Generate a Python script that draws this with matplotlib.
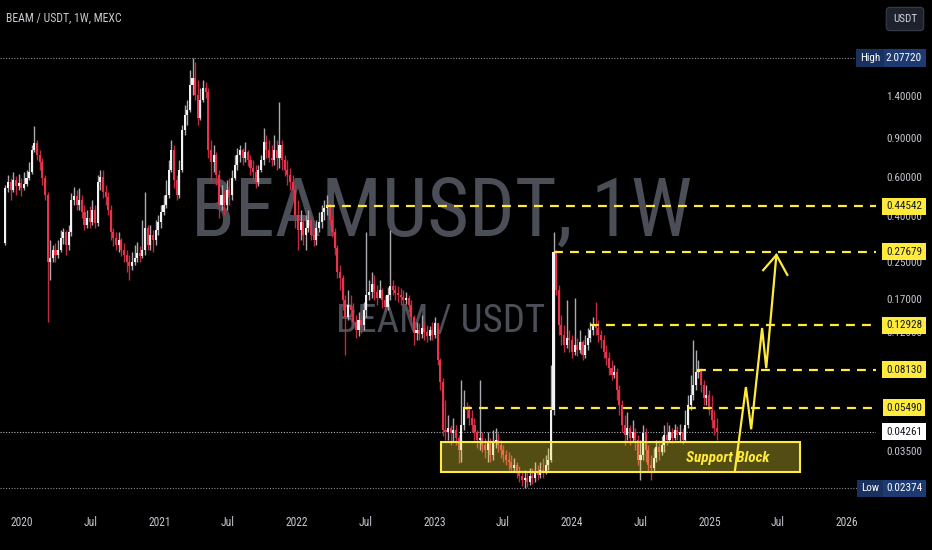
import numpy as np
import pandas as pd
import matplotlib
matplotlib.use("Agg")
import matplotlib.pyplot as plt
import matplotlib.dates as mdates
from matplotlib import font_manager
from matplotlib.patches import Rectangle
from matplotlib.ticker import NullLocator

# weekly candles BEAM/USDT (MEXC)
start_week = "2019-11-18"
first_open = 0.303
close = [
    0.538, 0.572, 0.527, 0.584, 0.549, 0.566, 0.538, 0.560, 0.597, 0.635,
    0.798, 0.859, 0.758, 0.705, 0.597, 0.500, 0.249, 0.260, 0.282, 0.268,
    0.282, 0.320, 0.340, 0.297, 0.340, 0.475, 0.495, 0.451, 0.475, 0.419,
    0.366, 0.394, 0.378, 0.428, 0.374, 0.572, 0.603, 0.516, 0.490, 0.428,
    0.340, 0.320, 0.297, 0.313, 0.282, 0.268, 0.249, 0.239, 0.249, 0.260,
    0.273, 0.265, 0.282, 0.355, 0.297, 0.330, 0.313, 0.347, 0.378, 0.419,
    0.451, 0.500, 0.648, 0.798, 0.584, 0.500, 0.648, 0.983, 1.148, 1.210,
    1.569, 1.687, 1.414, 1.113, 1.342, 1.521, 1.458, 0.798, 0.705, 0.758,
    0.616, 0.451, 0.500, 0.451, 0.527, 0.500, 0.597, 0.683, 0.758, 0.798,
    0.735, 0.782, 0.720, 0.662, 0.635, 0.572, 0.648, 0.720, 0.868, 0.798,
    0.735, 0.720, 0.798, 0.735, 0.841, 0.720, 0.648, 0.616, 0.572, 0.527,
    0.406, 0.347, 0.378, 0.330, 0.355, 0.386, 0.330, 0.313, 0.355, 0.378,
    0.419, 0.437, 0.451, 0.386, 0.340, 0.288, 0.224, 0.211, 0.168, 0.140,
    0.159, 0.151, 0.133, 0.123, 0.136, 0.129, 0.151, 0.177, 0.182, 0.199,
    0.182, 0.172, 0.186, 0.168, 0.156, 0.177, 0.194, 0.186, 0.180, 0.177,
    0.173, 0.168, 0.172, 0.159, 0.140, 0.119, 0.123, 0.118, 0.125, 0.120,
    0.116, 0.123, 0.117, 0.132, 0.0899, 0.0715, 0.0434, 0.0425, 0.0443, 0.0421,
    0.0434, 0.0399, 0.0353, 0.0457, 0.0552, 0.0534, 0.0492, 0.0457, 0.0425, 0.0391,
    0.0399, 0.0372, 0.0353, 0.0383, 0.0335, 0.0379, 0.0391, 0.0372, 0.0353, 0.0335,
    0.0318, 0.0311, 0.0292, 0.0302, 0.0280, 0.0269, 0.0258, 0.0264, 0.0253, 0.0269,
    0.0264, 0.0280, 0.0272, 0.0286, 0.0280, 0.0302, 0.0318, 0.0534, 0.276, 0.186,
    0.129, 0.117, 0.105, 0.113, 0.111, 0.0977, 0.105, 0.0998, 0.109, 0.0948,
    0.105, 0.113, 0.123, 0.129, 0.125, 0.117, 0.111, 0.0977, 0.0918, 0.0827,
    0.0769, 0.0794, 0.0658, 0.0563, 0.0457, 0.0412, 0.0443, 0.0399, 0.0425, 0.0391,
    0.0318, 0.0335, 0.0421, 0.0353, 0.0302, 0.0292, 0.0325, 0.0365, 0.0346, 0.0372,
    0.0412, 0.0391, 0.0425, 0.0399, 0.0434, 0.0412, 0.0425, 0.0391, 0.0457, 0.0563,
    0.0625, 0.0693, 0.0794, 0.0813, 0.0693, 0.0606, 0.0625, 0.0534, 0.0482, 0.0443, 0.04261,
]
high = [
    0.555, 0.616, 0.597, 0.635, 0.610, 0.622, 0.597, 0.635, 0.648, 0.705,
    0.841, 1.024, 0.886, 0.798, 0.735, 0.616, 0.516, 0.313, 0.297, 0.303,
    0.313, 0.347, 0.355, 0.347, 0.366, 0.511, 0.544, 0.527, 0.538, 0.500,
    0.451, 0.428, 0.446, 0.475, 0.451, 0.616, 0.648, 0.648, 0.555, 0.516,
    0.451, 0.355, 0.340, 0.340, 0.320, 0.303, 0.282, 0.268, 0.276, 0.297,
    0.307, 0.294, 0.386, 0.516, 0.366, 0.366, 0.347, 0.386, 0.406, 0.451,
    0.500, 0.584, 0.720, 0.886, 0.841, 0.616, 0.720, 1.035, 1.274, 1.342,
    1.833, 2.0772, 1.992, 1.652, 1.521, 1.652, 1.618, 1.521, 0.886, 0.841,
    0.782, 0.648, 0.555, 0.527, 0.584, 0.597, 0.648, 0.758, 0.815, 0.841,
    0.815, 0.868, 0.798, 0.758, 0.720, 0.683, 0.683, 0.758, 1.003, 0.933,
    0.886, 0.841, 0.933, 0.886, 1.314, 0.886, 0.758, 0.720, 0.662, 0.616,
    0.555, 0.475, 0.428, 0.406, 0.406, 0.428, 0.406, 0.355, 0.386, 0.419,
    0.451, 0.475, 0.500, 0.460, 0.406, 0.355, 0.297, 0.241, 0.218, 0.177,
    0.186, 0.177, 0.163, 0.144, 0.148, 0.144, 0.165, 0.340, 0.207, 0.224,
    0.218, 0.196, 0.207, 0.190, 0.177, 0.192, 0.347, 0.207, 0.196, 0.194,
    0.190, 0.186, 0.182, 0.177, 0.168, 0.144, 0.133, 0.132, 0.144, 0.133,
    0.129, 0.128, 0.133, 0.140, 0.132, 0.0918, 0.0745, 0.0593, 0.0507, 0.0457,
    0.0492, 0.0457, 0.0412, 0.0730, 0.0658, 0.0581, 0.0563, 0.0534, 0.0492, 0.0434,
    0.0730, 0.0425, 0.0399, 0.0425, 0.0399, 0.0434, 0.0443, 0.0421, 0.0391, 0.0372,
    0.0353, 0.0346, 0.0335, 0.0325, 0.0311, 0.0299, 0.0286, 0.0286, 0.0280, 0.0292,
    0.0292, 0.0311, 0.0302, 0.0311, 0.0325, 0.0335, 0.0361, 0.0854, 0.340, 0.282,
    0.196, 0.144, 0.129, 0.168, 0.123, 0.117, 0.172, 0.113, 0.123, 0.111,
    0.117, 0.125, 0.133, 0.140, 0.165, 0.136, 0.123, 0.117, 0.105, 0.0977,
    0.0899, 0.0854, 0.0827, 0.0693, 0.0593, 0.0507, 0.0523, 0.0457, 0.0482, 0.0443,
    0.0412, 0.0391, 0.0457, 0.0443, 0.0372, 0.0335, 0.0361, 0.0391, 0.0391, 0.0408,
    0.0457, 0.0472, 0.0457, 0.0443, 0.0462, 0.0452, 0.0462, 0.0443, 0.0534, 0.0625,
    0.0769, 0.111, 0.0998, 0.0899, 0.0827, 0.0730, 0.0693, 0.0658, 0.0625, 0.0534, 0.0492,
]
low = [
    0.297, 0.516, 0.475, 0.516, 0.500, 0.527, 0.495, 0.527, 0.549, 0.584,
    0.622, 0.782, 0.720, 0.648, 0.555, 0.475, 0.133, 0.207, 0.249, 0.249,
    0.260, 0.276, 0.300, 0.268, 0.282, 0.327, 0.451, 0.428, 0.428, 0.394,
    0.347, 0.355, 0.355, 0.366, 0.355, 0.362, 0.527, 0.485, 0.451, 0.406,
    0.313, 0.294, 0.282, 0.276, 0.265, 0.249, 0.224, 0.207, 0.229, 0.241,
    0.249, 0.249, 0.260, 0.268, 0.282, 0.282, 0.276, 0.297, 0.330, 0.355,
    0.406, 0.437, 0.485, 0.635, 0.538, 0.475, 0.485, 0.635, 0.933, 1.035,
    1.185, 1.414, 1.342, 1.035, 1.090, 1.314, 1.371, 0.735, 0.572, 0.635,
    0.555, 0.394, 0.428, 0.406, 0.428, 0.451, 0.475, 0.584, 0.648, 0.705,
    0.683, 0.705, 0.676, 0.616, 0.572, 0.538, 0.549, 0.635, 0.683, 0.735,
    0.705, 0.676, 0.683, 0.648, 0.662, 0.648, 0.610, 0.555, 0.527, 0.475,
    0.355, 0.282, 0.313, 0.297, 0.282, 0.340, 0.313, 0.294, 0.297, 0.340,
    0.355, 0.386, 0.406, 0.366, 0.323, 0.268, 0.211, 0.186, 0.151, 0.0948,
    0.136, 0.140, 0.125, 0.113, 0.116, 0.119, 0.123, 0.140, 0.168, 0.172,
    0.168, 0.159, 0.172, 0.154, 0.148, 0.151, 0.168, 0.177, 0.168, 0.165,
    0.159, 0.157, 0.161, 0.148, 0.129, 0.105, 0.111, 0.111, 0.113, 0.111,
    0.109, 0.111, 0.111, 0.113, 0.0854, 0.0658, 0.0408, 0.0391, 0.0391, 0.0372,
    0.0383, 0.0372, 0.0308, 0.0311, 0.0434, 0.0492, 0.0457, 0.0425, 0.0391, 0.0361,
    0.0353, 0.0346, 0.0325, 0.0311, 0.0311, 0.0318, 0.0361, 0.0346, 0.0325, 0.0311,
    0.0302, 0.0286, 0.0280, 0.0280, 0.0264, 0.0253, 0.0242, 0.02374, 0.0240, 0.0245,
    0.0248, 0.0253, 0.0258, 0.0264, 0.0264, 0.0275, 0.0286, 0.0311, 0.0507, 0.177,
    0.117, 0.105, 0.0977, 0.1018, 0.0977, 0.0918, 0.0948, 0.0938, 0.0967, 0.0899,
    0.0918, 0.0998, 0.109, 0.117, 0.117, 0.109, 0.102, 0.0918, 0.0854, 0.0769,
    0.0730, 0.0745, 0.0593, 0.0507, 0.0425, 0.0372, 0.0391, 0.0372, 0.0383, 0.0353,
    0.0302, 0.0258, 0.0318, 0.0311, 0.0280, 0.0258, 0.0280, 0.0311, 0.0318, 0.0335,
    0.0346, 0.0372, 0.0383, 0.0379, 0.0391, 0.0391, 0.0383, 0.0375, 0.0383, 0.0443,
    0.0534, 0.0593, 0.0658, 0.0745, 0.0645, 0.0563, 0.0563, 0.0507, 0.0443, 0.0412, 0.0391,
]

# horizontal levels drawn on the chart
levels = [0.44542, 0.27679, 0.12928, 0.08130, 0.05490]
level_start = ["2022-03-18", "2023-11-15", "2024-02-18", "2024-11-28", "2023-03-17"]
price_high = 2.07720
price_low = 0.02374
price_last = 0.04261

# price axis ticks and time axis labels
ytick_vals = [1.4, 0.9, 0.6, 0.4, 0.25, 0.17, 0.12, 0.035]
xtick_dates = ["2020-01-01", "2020-07-01", "2021-01-01", "2021-07-01", "2022-01-01",
               "2022-07-01", "2023-01-01", "2023-07-01", "2024-01-01", "2024-07-01",
               "2025-01-01", "2025-07-01", "2026-01-01"]
xtick_labels = ["2020", "Jul", "2021", "Jul", "2022", "Jul", "2023", "Jul",
                "2024", "Jul", "2025", "Jul", "2026"]

# support block + projected path
support_dates = ["2023-01-17", "2025-08-28"]
support_prices = [0.0280, 0.0383]
arrow_dates = ["2025-03-09", "2025-04-07", "2025-04-21", "2025-05-20", "2025-05-31", "2025-06-27"]
arrow_prices = [0.0286, 0.0679, 0.0438, 0.1255, 0.0827, 0.268]
head_dates = ["2025-05-23", "2025-06-27", "2025-07-26"]
head_prices = [0.229, 0.268, 0.218]

available = {f.name for f in font_manager.fontManager.ttflist}
narrow = next((n for n in ["Liberation Sans Narrow", "Roboto Condensed", "Open Sans Condensed",
                           "Liberation Sans"] if n in available), "DejaVu Sans")

YELLOW = "#ffeb3b"
TXT = "#c3c6ce"

dates = pd.date_range(start_week, periods=len(close), freq="W-MON")
x = mdates.date2num(dates)
c = np.array(close)
o = np.array([first_open] + close[:-1])
h = np.array(high)
l = np.array(low)
up = c >= o

fig = plt.figure(figsize=(9.32, 5.5), dpi=100, facecolor="black")
ax = fig.add_axes([0, 45 / 550, 876 / 932, 505 / 550])
ax.set_facecolor("black")
ax.set_yscale("log")
x0 = mdates.date2num(pd.Timestamp("2020-01-01"))
ax.set_xlim(x0 - 58.4, x0 + 2268.6)
ax.set_ylim(0.01993, 3.796)
for s in ax.spines.values():
    s.set_visible(False)

# watermark
ax.text(0.5046, 0.578, "BEAMUSDT, 1W", transform=ax.transAxes, ha="center", va="center",
        fontsize=58, color="#4b4e57", family=narrow, zorder=0)
ax.text(0.503, 0.364, "BEAM / USDT", transform=ax.transAxes, ha="center", va="center",
        fontsize=28, color="#4b4e57", family=narrow, zorder=0)

# candles
wick_col = np.where(up, "#a9abb0", "#c22a40")
body_col = np.where(up, "#f2f2f2", "#e8334a")
ax.vlines(x, l, h, colors=wick_col, linewidth=1.0, zorder=2)
bottom = np.minimum(o, c)
height = np.maximum(np.abs(c - o), bottom * 0.012)
ax.bar(x, height, bottom=bottom, width=5.5, color=body_col, linewidth=0, zorder=3)

# dotted reference lines
ax.axhline(price_high, xmax=858 / 876, color="#8a8d96", lw=0.8, ls=(0, (1, 1.5)), zorder=1)
ax.axhline(price_low, xmax=859 / 876, color="#8a8d96", lw=0.8, ls=(0, (1, 1.5)), zorder=1)
ax.axhline(price_last, color="#b0b3ba", lw=0.8, ls=(0, (1, 1.5)), zorder=1)

# yellow dashed levels
for lev, st in zip(levels, level_start):
    ax.hlines(lev, mdates.date2num(pd.Timestamp(st)), ax.get_xlim()[1], colors=YELLOW,
              lw=1.6, linestyles=[(0, (4, 3.2))], zorder=4)

# support block
sx0 = mdates.date2num(pd.Timestamp(support_dates[0]))
sx1 = mdates.date2num(pd.Timestamp(support_dates[1]))
ax.add_patch(Rectangle((sx0, support_prices[0]), sx1 - sx0, support_prices[1] - support_prices[0],
                       facecolor=(1.0, 0.92, 0.23, 0.33), edgecolor=YELLOW, lw=1.5, zorder=5))
ax.text(mdates.date2num(pd.Timestamp("2025-02-18")), 0.0326, "Support Block", ha="center",
        va="center", fontsize=11, color=YELLOW, family=narrow, fontweight="bold",
        style="italic", zorder=6)

# projected zig-zag arrow
ax.plot(mdates.date2num(pd.to_datetime(arrow_dates)), arrow_prices, color=YELLOW, lw=1.6,
        zorder=6, solid_joinstyle="miter")
ax.plot(mdates.date2num(pd.to_datetime(head_dates)), head_prices, color=YELLOW, lw=1.6,
        zorder=6, solid_joinstyle="miter")

# axes ticks
ax.yaxis.tick_right()
ax.set_yticks(ytick_vals, labels=["%.5f" % v for v in ytick_vals])
ax.yaxis.set_minor_locator(NullLocator())
ax.tick_params(axis="y", length=0, pad=20.2, labelsize=8, labelcolor=TXT)
for t in ax.get_yticklabels():
    t.set_ha("center")
    t.set_family(narrow)
ax.set_xticks(mdates.date2num(pd.to_datetime(xtick_dates)), labels=xtick_labels)
ax.xaxis.set_minor_locator(NullLocator())
ax.tick_params(axis="x", length=0, pad=8, labelsize=8.3, labelcolor=TXT)
for t in ax.get_xticklabels():
    t.set_family(narrow)

# price labels on the right scale
tr = ax.get_yaxis_transform()
lx = 904 / 876
for lev in levels:
    ax.text(lx, lev, "%.5f" % lev, transform=tr, ha="center", va="center", fontsize=8,
            color="#131722", family=narrow, clip_on=False, zorder=10,
            bbox=dict(boxstyle="square,pad=0.32", fc=YELLOW, ec="none"))
ax.text(lx, price_last, "%.5f" % price_last, transform=tr, ha="center", va="center", fontsize=8,
        color="#131722", family=narrow, clip_on=False, zorder=10,
        bbox=dict(boxstyle="square,pad=0.32", fc="white", ec="none"))
for val, name in [(price_high, "High"), (price_low, "Low")]:
    ax.text(lx, val, "%.5f" % val, transform=tr, ha="center", va="center", fontsize=8,
            color="white", family=narrow, clip_on=False, zorder=10,
            bbox=dict(boxstyle="square,pad=0.32", fc="#1e3a72", ec="none"))
    ax.text(870 / 876, val, name, transform=tr, ha="center", va="center", fontsize=8,
            color="white", family=narrow, clip_on=False, zorder=10,
            bbox=dict(boxstyle="square,pad=0.32", fc="#1a305e", ec="none"))

# header
fig.text(6 / 932, 1 - 18 / 550, "BEAM / USDT, 1W, MEXC", ha="left", va="center", fontsize=8.5,
         color="#c8cad0", family=narrow)
fig.text(905 / 932, 1 - 19 / 550, "USDT", ha="center", va="center", fontsize=8, color="#d1d4dc",
         family=narrow,
         bbox=dict(boxstyle="round,pad=0.6,rounding_size=0.35", fc="#1e222d", ec="#3a3e4a", lw=0.8))

fig.savefig("out.png", dpi=100, facecolor="black")
